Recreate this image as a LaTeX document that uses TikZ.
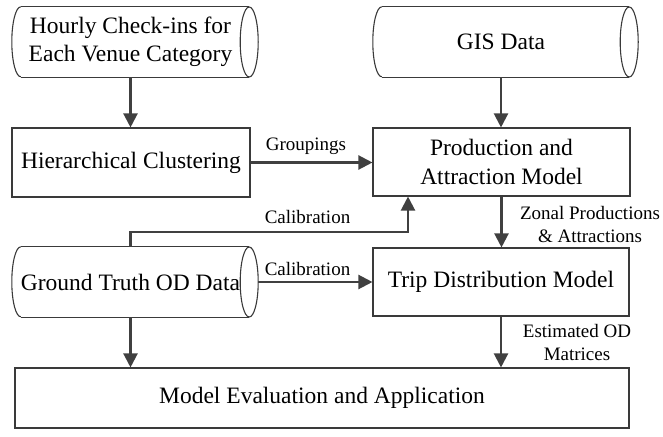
\documentclass[tikz,border=0pt]{standalone}
\usepackage{fontspec}
\setmainfont{Liberation Serif}
\usetikzlibrary{arrows.meta,calc}
\definecolor{lc}{HTML}{404040}
\definecolor{bc}{HTML}{3A3A3A}
\newcommand{\cylshape}[1]{%
  \draw[bc,line width=1.1pt] ([xshift=9pt]#1.north west) -- (#1.north east)
    ([xshift=9pt]#1.south west) -- (#1.south east);
  \draw[bc,line width=1.1pt] ([xshift=9pt]#1.north west) arc[start angle=90,end angle=270,x radius=9pt,y radius=35pt];
  \draw[bc,line width=1.1pt] (#1.east) ellipse[x radius=9pt,y radius=35pt];
}
\begin{document}
\begin{tikzpicture}[x=1pt,y=1pt,
  mainfont/.style={font=\fontsize{23.5}{28.5}\selectfont, align=center, text=black},
  lblfont/.style={font=\fontsize{19}{22.5}\selectfont, align=center, text=black, inner sep=0pt},
  boxnode/.style={mainfont, draw=bc, line width=1.1pt, rectangle, inner sep=0pt},
  cylnode/.style={mainfont, rectangle, inner sep=0pt, minimum width=237pt, minimum height=70pt},
  arr/.style={draw=lc, line width=2.2pt, -{Triangle[length=14pt,width=14pt,fill=lc]}}
]
\useasboundingbox (0,0) rectangle (663,-436);

% cylinders (data sources)
\node[cylnode] (hourly) at (130.5,-42) {Hourly Check-ins for\\Each Venue Category};
\cylshape{hourly}
\node[cylnode, minimum width=256pt] (gis) at (501,-42) {GIS Data};
\cylshape{gis}
\node[cylnode] (gt) at (130.5,-282) {Ground Truth OD Data};
\cylshape{gt}

% boxes
\node[boxnode, minimum width=238pt, minimum height=69pt] (hc) at (131,-162.5) {Hierarchical Clustering};
\node[boxnode, minimum width=257pt, minimum height=68pt] (pa) at (501.5,-162) {Production and\\Attraction Model};
\node[boxnode, minimum width=256pt, minimum height=68pt] (td) at (501,-282) {Trip Distribution Model};
\node[boxnode, minimum width=614pt, minimum height=60pt] (ev) at (322,-398) {Model Evaluation and Application};

% connectors
\draw[arr] (hourly.south) -- (hourly.south |- hc.north);
\draw[arr] (gis.south) -- (gis.south |- pa.north);
\draw[arr] (hc.east) -- (hc.east -| pa.west);
\draw[arr] (pa.south) -- (pa.south |- td.north);
\draw[arr] (td.south) -- (td.south |- ev.north);
\draw[arr] (gt.south) -- (gt.south |- ev.north);
\draw[arr] ([xshift=9pt]gt.east) -- (td.west);
\coordinate (calc) at (408,-232);
\draw[arr] (gt.north) |- (calc) -- (calc |- pa.south);

% labels
\node[lblfont] (lgrp) at (306,-146) {Groupings};
\node[lblfont] (lcal1) at (307.5,-217) {Calibration};
\node[lblfont] (lcal2) at (307.5,-269) {Calibration};
\node[lblfont] (lzon) at (590,-224.5) {Zonal Productions\\\& Attractions};
\node[lblfont] (lest) at (577,-342.5) {Estimated OD\\Matrices};
\end{tikzpicture}
\end{document}
